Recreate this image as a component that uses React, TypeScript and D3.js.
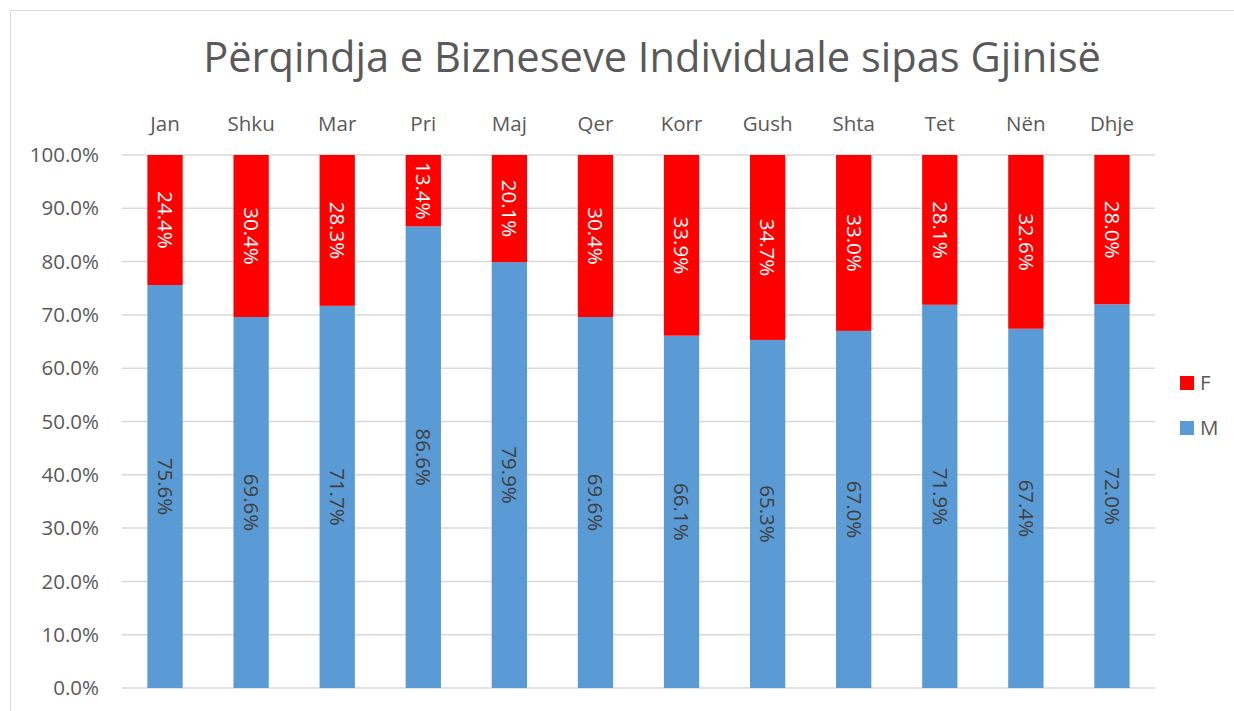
import React from 'react';
import * as d3 from 'd3';

const months = ['Jan', 'Shku', 'Mar', 'Pri', 'Maj', 'Qer', 'Korr', 'Gush', 'Shta', 'Tet', 'Nën', 'Dhje'];
const maleShare = [75.6, 69.6, 71.7, 86.6, 79.9, 69.6, 66.1, 65.3, 67.0, 71.9, 67.4, 72.0];
const femaleShare = [24.4, 30.4, 28.3, 13.4, 20.1, 30.4, 33.9, 34.7, 33.0, 28.1, 32.6, 28.0];
const yTicks = [0, 10, 20, 30, 40, 50, 60, 70, 80, 90, 100];

const W = 1234;
const H = 711;
const font = "'Open Sans', 'Liberation Sans', sans-serif";
const textColor = '#595959';
const red = '#ff0000';
const blue = '#5b9bd5';
const fs = 20.5;

const App: React.FC = () => {
  const x = d3.scaleBand<string>().domain(months).range([122, 1155]).paddingInner(0.59).paddingOuter(0.295);
  const y = d3.scaleLinear().domain([0, 100]).range([688, 155]);

  return (
    <svg width={W} height={H} style={{ position: 'absolute', left: 0, top: 0, background: '#fff' }} fontFamily={font}>
      <rect x={10.5} y={10.5} width={W + 10} height={H + 10} fill="#fff" stroke="#d9d9d9" />
      <text x={652} y={72} textAnchor="middle" fontSize={41.6} fill={textColor}>
        Përqindja e Bizneseve Individuale sipas Gjinisë
      </text>

      {/* Grid */}
      {yTicks.map((t) => (
        <g key={t}>
          <line x1={122} x2={1155} y1={y(t)} y2={y(t)} stroke="#d9d9d9" strokeWidth={1.5} />
          <text x={99} y={y(t)} dy="0.35em" textAnchor="end" fontSize={fs} fill={textColor}>
            {t.toFixed(1)}%
          </text>
        </g>
      ))}

      {/* Month labels at top */}
      {months.map((m) => (
        <text key={m} x={x(m)! + x.bandwidth() / 2} y={124} dy="0.35em" textAnchor="middle" fontSize={fs} fill={textColor}>
          {m}
        </text>
      ))}

      {/* Bars */}
      {months.map((m, i) => {
        const bx = x(m)!;
        const bw = x.bandwidth();
        const cx = bx + bw / 2;
        const mTop = y(maleShare[i]);
        const fTop = y(maleShare[i] + femaleShare[i]);
        const mMid = (y(0) + mTop) / 2;
        const fMid = (mTop + fTop) / 2;
        return (
          <g key={m}>
            <rect x={bx} y={mTop} width={bw} height={y(0) - mTop} fill={blue} />
            <rect x={bx} y={fTop} width={bw} height={mTop - fTop} fill={red} />
            <text transform={`translate(${cx},${mMid}) rotate(90)`} textAnchor="middle" dy="0.35em" fontSize={fs} fill="#404040">
              {maleShare[i].toFixed(1)}%
            </text>
            <text transform={`translate(${cx},${fMid}) rotate(90)`} textAnchor="middle" dy="0.35em" fontSize={fs} fill="#fff">
              {femaleShare[i].toFixed(1)}%
            </text>
          </g>
        );
      })}

      {/* Legend */}
      <rect x={1180} y={376} width={14} height={14} fill={red} />
      <text x={1200} y={383} dy="0.35em" fontSize={fs} fill={textColor}>F</text>
      <rect x={1180} y={421} width={14} height={14} fill={blue} />
      <text x={1200} y={428} dy="0.35em" fontSize={fs} fill={textColor}>M</text>
    </svg>
  );
};

export default App;
